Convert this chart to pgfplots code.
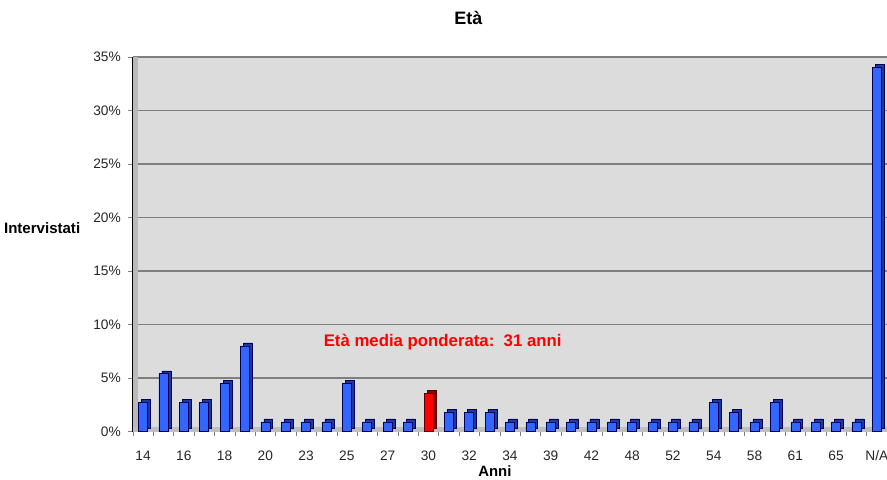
\documentclass[border=0pt]{standalone}
\usepackage{pgfplots}
\pgfplotsset{compat=1.18}
\usepackage{fontspec}
\setmainfont{Liberation Sans}

\definecolor{wallbg}{HTML}{DCDCDC}
\definecolor{gridgray}{HTML}{7F7F7F}
\definecolor{barblue}{HTML}{3366FF}
\definecolor{barside}{HTML}{1C3A9E}
\definecolor{barline}{HTML}{000055}
\definecolor{redside}{HTML}{8F0000}

\begin{document}
\begin{tikzpicture}
\begin{axis}[
    width=566.25pt, height=281.25pt, scale only axis,
    xmin=-0.5, xmax=36.5, ymin=0, ymax=35,
    ybar, bar width=6.75pt,
    axis background/.style={fill=wallbg},
    axis lines=left, axis line style={-, black, line width=0.8pt},
    tick align=outside, major tick length=3.5pt,
    ytick={0,5,...,35},
    yticklabel={\pgfmathprintnumber{\tick}\%},
    /pgf/number format/assume math mode=true,
    ymajorgrids, grid style={draw=gridgray, line width=1.1pt},
    xtick={-0.5,0.5,...,36.5}, xticklabels={},
    extra x ticks={0,2,...,36},
    extra x tick labels={14,16,18,20,23,25,27,30,32,34,39,42,48,52,54,58,61,65,N/A},
    extra x tick style={major tick length=0pt, grid=none},
    tick label style={font=\fontsize{10.3}{12}\selectfont, text=black!85},
    xticklabel style={yshift=-11pt},
    yticklabel style={xshift=-2pt},
    clip=false,
]
% back wall side and floor
\fill[gray!55] (rel axis cs:0,0) rectangle ([xshift=3.5pt]rel axis cs:0,1);
\fill[gray!50] (rel axis cs:0,0) rectangle ([yshift=3.5pt]rel axis cs:1,0);

% side faces
\addplot[fill=barside, draw=barline, line width=0.4pt, bar shift=0pt, xshift=2.2pt, yshift=2.2pt] coordinates {
(0,2.7) (1,5.4) (2,2.7) (3,2.7) (4,4.5) (5,8.0) (6,0.9) (7,0.9) (8,0.9) (9,0.9)
(10,4.5) (11,0.9) (12,0.9) (13,0.9) (15,1.8) (16,1.8) (17,1.8) (18,0.9) (19,0.9)
(20,0.9) (21,0.9) (22,0.9) (23,0.9) (24,0.9) (25,0.9) (26,0.9) (27,0.9) (28,2.7) (29,1.8)
(30,0.9) (31,2.7) (32,0.9) (33,0.9) (34,0.9) (35,0.9) (36,34.0)
};
\addplot[fill=redside, draw=redside!60!black, line width=0.4pt, bar shift=0pt, xshift=2.2pt, yshift=2.2pt] coordinates {(14,3.6)};
% front faces
\addplot[fill=barblue, draw=barline, line width=0.4pt, bar shift=0pt] coordinates {
(0,2.7) (1,5.4) (2,2.7) (3,2.7) (4,4.5) (5,8.0) (6,0.9) (7,0.9) (8,0.9) (9,0.9)
(10,4.5) (11,0.9) (12,0.9) (13,0.9) (15,1.8) (16,1.8) (17,1.8) (18,0.9) (19,0.9)
(20,0.9) (21,0.9) (22,0.9) (23,0.9) (24,0.9) (25,0.9) (26,0.9) (27,0.9) (28,2.7) (29,1.8)
(30,0.9) (31,2.7) (32,0.9) (33,0.9) (34,0.9) (35,0.9) (36,34.0)
};
\addplot[fill=red, draw=redside!60!black, line width=0.4pt, bar shift=0pt] coordinates {(14,3.6)};

\node[text=red, font=\bfseries\fontsize{12.6}{14}\selectfont] at (axis cs:14.7,8.4) {Età media ponderata:\ \ 31 anni};
\node[font=\bfseries\fontsize{11.2}{13}\selectfont, anchor=north] at ([yshift=-22.5pt]axis description cs:0.48,0) {Anni};
\node[font=\bfseries\fontsize{11.3}{13}\selectfont, anchor=east] at ([xshift=-36pt]axis description cs:0,0.544) {Intervistati};
\node[font=\bfseries\fontsize{13.5}{15}\selectfont] at ([yshift=29pt]axis description cs:0.445,1) {Età};
\end{axis}
\pgfresetboundingbox
\path ([xshift=-99.75pt,yshift=-36pt]current axis.south west) rectangle ([yshift=42.75pt]current axis.north east);
\end{tikzpicture}
\end{document}
